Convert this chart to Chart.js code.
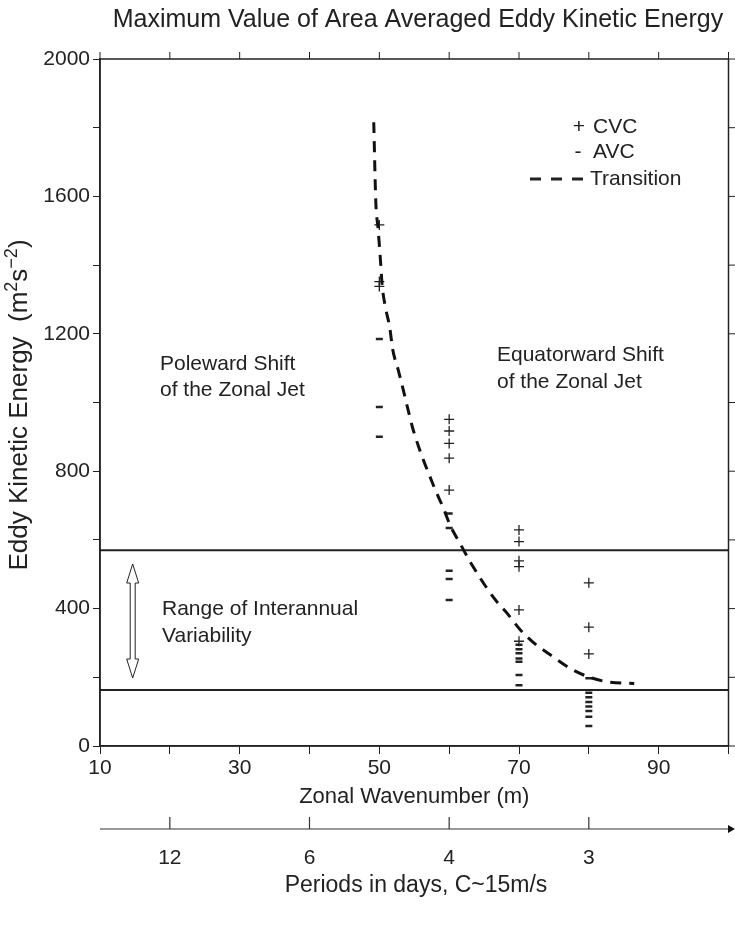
<!DOCTYPE html>
<html>
<head>
<meta charset="utf-8">
<script src="https://cdn.jsdelivr.net/npm/chart.js@4.4.0/dist/chart.umd.min.js"></script>
<style>
body { margin: 0; background: #fff; }
#cadre { width: 735px; height: 927px; }
</style>
</head>
<body>
<div id="cadre"><canvas id="graphiqueEKE"></canvas></div>
<script>
// valeurs
var cvcM = [50, 50, 50, 60, 60, 60, 60, 60, 70, 70, 70, 70, 70, 70, 80, 80, 80];
var cvcE = [1517, 1352, 1338, 951, 917, 881, 838, 745, 629, 595, 539, 522, 396, 305, 475, 346, 268];

var avcM = [50, 50, 50, 60, 60, 60, 60, 60, 70, 70, 70, 70, 70, 70, 70, 80, 80, 80, 80, 80, 80, 80, 80];
var avcE = [1185, 987, 900, 677, 635, 510, 486, 425, 295, 282, 270, 255, 245, 207, 177, 197, 155, 142, 128, 115, 102, 85, 58];

var transM = [49.2, 49.5, 49.8, 50.2, 50.4, 50.9, 51.5, 51.9, 52.7, 53.4, 54.1, 54.9, 57.9, 59.1, 60.2, 61.6, 63.1, 66.4, 68.4, 70.2, 72.5, 74.1, 77.5, 80.0, 82.9, 86.5];
var transE = [1816, 1581, 1511, 1403, 1342, 1275, 1217, 1156, 1095, 1039, 980, 917, 751, 696, 640, 588, 533, 431, 384, 338, 294, 271, 224, 201, 186, 182];

var rangeHaut = 570;
var rangeBas = 163;

var xLabels = [10, 30, 50, 70, 90];
var yLabels = [0, 400, 800, 1200, 1600, 2000];

var periodM = [20, 40, 60, 80];
var periodLabels = ['12', '6', '4', '3'];

var police = '"Liberation Sans", Arial, Helvetica, sans-serif';
Chart.defaults.font.family = police;
Chart.defaults.color = '#222';

function points(xs, ys) {
    return xs.map(function(x, i) { return {x: x, y: ys[i]}; });
}

function titreY(ctx, cx, cy) { //titre vertical avec exposants
    var morceaux = [
        ['Eddy Kinetic Energy  (m', 26, 0],
        ['2', 18, 10],
        ['s', 26, 0],
        ['\u22122', 18, 10],
        [')', 26, 0]
    ];
    var total = 0;
    morceaux.forEach(function(m) {
        ctx.font = m[1] + 'px ' + police;
        m.push(ctx.measureText(m[0]).width);
        total += m[3];
    });
    ctx.save();
    ctx.translate(cx, cy);
    ctx.rotate(-Math.PI / 2);
    ctx.textAlign = 'left';
    ctx.textBaseline = 'alphabetic';
    var x = -total / 2;
    morceaux.forEach(function(m) {
        ctx.font = m[1] + 'px ' + police;
        ctx.fillText(m[0], x, 9 - m[2]);
        x += m[3];
    });
    ctx.restore();
}

var decor = { // cadre, textes, fleche et axe des periodes
    id: 'decor',
    afterDraw: function(chart) {
        var ctx = chart.ctx;
        var a = chart.chartArea;
        var sx = chart.scales.x;
        var sy = chart.scales.y;
        ctx.save();
        ctx.strokeStyle = '#222';
        ctx.lineWidth = 1.5;
        ctx.strokeRect(a.left, a.top, a.right - a.left, a.bottom - a.top);

        ctx.lineWidth = 1;
        ctx.beginPath();
        sx.ticks.forEach(function(t) {
            var px = sx.getPixelForValue(t.value);
            ctx.moveTo(px, a.top);
            ctx.lineTo(px, a.top - 7);
        });
        sy.ticks.forEach(function(t) {
            var py = sy.getPixelForValue(t.value);
            ctx.moveTo(a.right, py);
            ctx.lineTo(a.right + 7, py);
        });
        ctx.stroke();

        ctx.fillStyle = '#222';
        ctx.textBaseline = 'middle';
        ctx.textAlign = 'center';
        ctx.font = '25px ' + police;
        ctx.fillText('Maximum Value of Area Averaged Eddy Kinetic Energy', 418, 20);

        titreY(ctx, 18, 405);

        ctx.fillStyle = '#222';
        ctx.textBaseline = 'middle';
        ctx.font = '21px ' + police;
        ctx.textAlign = 'left';
        ctx.fillText('Poleward Shift', 160, 364);
        ctx.fillText('of the Zonal Jet', 160, 390);
        ctx.fillText('Equatorward Shift', 497, 355);
        ctx.fillText('of the Zonal Jet', 497, 382);
        ctx.fillText('Range of Interannual', 162, 609);
        ctx.fillText('Variability', 162, 636);

        // legende
        ctx.textAlign = 'center';
        ctx.fillText('+', 579, 127);
        ctx.fillText('-', 578, 152);
        ctx.textAlign = 'left';
        ctx.fillText('CVC', 593, 127);
        ctx.fillText('AVC', 593, 152);
        ctx.fillText('Transition', 590, 179);
        ctx.lineWidth = 3;
        ctx.beginPath();
        [530, 551, 572].forEach(function(x0) {
            ctx.moveTo(x0, 179);
            ctx.lineTo(x0 + 11, 179);
        });
        ctx.stroke();

        // fleche double creuse
        var cx = 132.7, yt = 564, yb = 678, hw = 6, sw = 2.5, hl = 19;
        ctx.lineWidth = 1;
        ctx.fillStyle = '#fff';
        ctx.beginPath();
        ctx.moveTo(cx, yt);
        ctx.lineTo(cx + hw, yt + hl);
        ctx.lineTo(cx + sw, yt + hl);
        ctx.lineTo(cx + sw, yb - hl);
        ctx.lineTo(cx + hw, yb - hl);
        ctx.lineTo(cx, yb);
        ctx.lineTo(cx - hw, yb - hl);
        ctx.lineTo(cx - sw, yb - hl);
        ctx.lineTo(cx - sw, yt + hl);
        ctx.lineTo(cx - hw, yt + hl);
        ctx.closePath();
        ctx.fill();
        ctx.stroke();

        // axe des periodes
        var ly = 829;
        ctx.strokeStyle = '#333';
        ctx.lineWidth = 1.2;
        ctx.beginPath();
        ctx.moveTo(sx.getPixelForValue(10), ly);
        ctx.lineTo(731, ly);
        periodM.forEach(function(m) {
            var px = sx.getPixelForValue(m);
            ctx.moveTo(px, ly - 12);
            ctx.lineTo(px, ly);
        });
        ctx.stroke();
        ctx.fillStyle = '#111';
        ctx.beginPath();
        ctx.moveTo(735, ly);
        ctx.lineTo(728, ly - 4);
        ctx.lineTo(728, ly + 4);
        ctx.closePath();
        ctx.fill();

        ctx.fillStyle = '#222';
        ctx.textAlign = 'center';
        ctx.font = '21px ' + police;
        periodM.forEach(function(m, i) {
            ctx.fillText(periodLabels[i], sx.getPixelForValue(m), 858);
        });
        ctx.font = '23px ' + police;
        ctx.fillText('Periods in days, C~15m/s', 416, 886);
        ctx.restore();
    }
};

var ctx = document.getElementById('graphiqueEKE').getContext('2d');
var graphique = new Chart(ctx, {
    type: 'line',
    data: {
        datasets: [{
            label: 'Transition',
            data: points(transM, transE),
            borderColor: '#111',
            borderWidth: 3,
            borderDash: [11, 8],
            cubicInterpolationMode: 'monotone',
            pointRadius: 0,
            fill: false
        }, {
            label: 'CVC',
            data: points(cvcM, cvcE),
            showLine: false,
            pointStyle: 'cross',
            pointRadius: 5,
            pointBorderWidth: 1.3,
            pointBorderColor: '#222'
        }, {
            label: 'AVC',
            data: points(avcM, avcE),
            showLine: false,
            pointStyle: 'line',
            pointRadius: 3.5,
            pointBorderWidth: 2.5,
            pointBorderColor: '#222'
        }, {
            label: 'haut',
            data: [{x: 10, y: rangeHaut}, {x: 100, y: rangeHaut}],
            borderColor: '#222',
            borderWidth: 2,
            pointRadius: 0
        }, {
            label: 'bas',
            data: [{x: 10, y: rangeBas}, {x: 100, y: rangeBas}],
            borderColor: '#222',
            borderWidth: 2,
            pointRadius: 0
        }]
    },
    options: {
        responsive: true,
        maintainAspectRatio: false,
        animation: false,
        layout: { padding: { top: 59, right: 6, bottom: 115 } },
        plugins: {
            legend: { display: false },
            tooltip: { enabled: false },
            title: { display: false }
        },
        scales: {
            x: {
                type: 'linear',
                min: 10,
                max: 100,
                afterFit: function(s) { s.height = 66; },
                grid: { drawOnChartArea: false, tickLength: 8, color: '#222' },
                border: { color: '#222', width: 1.5 },
                ticks: {
                    stepSize: 10,
                    autoSkip: false,
                    maxRotation: 0,
                    padding: 2,
                    font: { size: 21 },
                    callback: function(v) { return xLabels.indexOf(v) >= 0 ? String(v) : ''; }
                },
                title: {
                    display: true,
                    text: 'Zonal Wavenumber (m)',
                    font: { size: 22 },
                    padding: { top: 0, bottom: 2 }
                }
            },
            y: {
                min: 0,
                max: 2000,
                afterFit: function(s) { s.width = 100; },
                grid: { drawOnChartArea: false, tickLength: 7, color: '#222' },
                border: { color: '#222', width: 1.5 },
                ticks: {
                    stepSize: 200,
                    autoSkip: false,
                    padding: 3,
                    font: { size: 21 },
                    callback: function(v) { return yLabels.indexOf(v) >= 0 ? String(v) : ''; }
                }
            }
        }
    },
    plugins: [decor]
});
</script>
</body>
</html>
